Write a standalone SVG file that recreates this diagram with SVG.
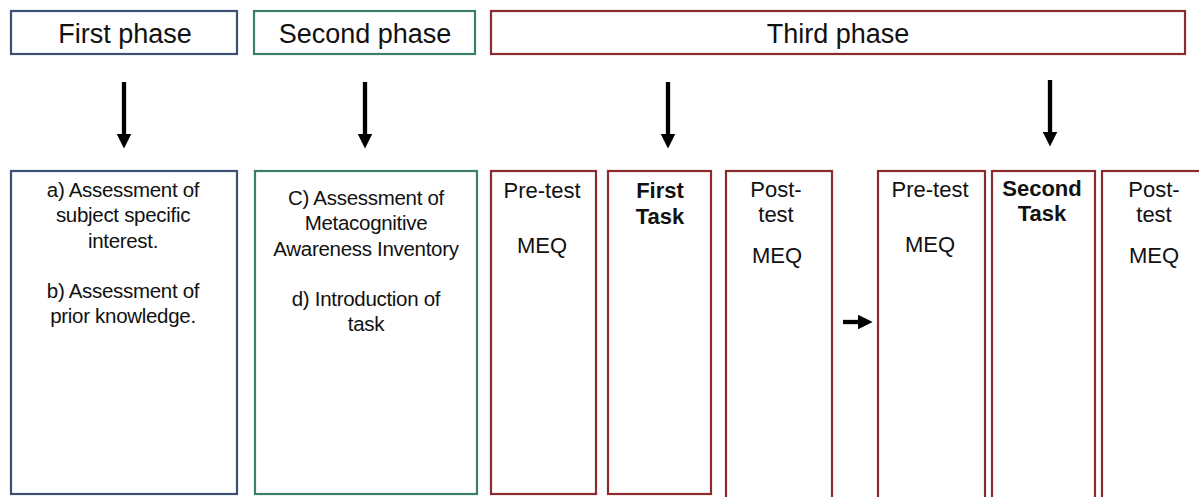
<svg xmlns="http://www.w3.org/2000/svg" width="1199" height="497" viewBox="0 0 1199 497">
  <style>
    .box { fill: #ffffff; stroke-width: 2.2; }
    .blue { stroke: #3e5071; }
    .green { stroke: #3a7f6c; }
    .red { stroke: #8c2b2d; }
    .hdr { font-family: "Liberation Sans", Arial, sans-serif; font-size: 27px; fill: #111; text-anchor: middle; }
    .txt { font-family: "Liberation Sans", Arial, sans-serif; font-size: 20.5px; fill: #111; text-anchor: middle; letter-spacing: -0.3px; }
    .big { font-family: "Liberation Sans", Arial, sans-serif; font-size: 22px; fill: #111; text-anchor: middle; }
    .bold { font-weight: bold; }
    .shaft { stroke: #000; stroke-width: 4.3; }
  </style>
  <defs>
    <marker id="head" viewBox="0 0 10 10" refX="0" refY="5" markerWidth="3.4" markerHeight="3.4" orient="auto" markerUnits="strokeWidth">
      <path d="M0,0 L10,5 L0,10 Z" fill="#000"/>
    </marker>
  </defs>

  <rect width="1199" height="497" fill="#ffffff"/>

  <!-- phase headers -->
  <g id="first-phase">
    <rect class="box blue" x="11" y="11" width="226" height="43"/>
    <text class="hdr" x="125" y="43">First phase</text>
  </g>
  <g id="second-phase">
    <rect class="box green" x="254" y="11" width="221" height="43"/>
    <text class="hdr" x="365" y="43">Second phase</text>
  </g>
  <g id="third-phase">
    <rect class="box red" x="491" y="11" width="694" height="43"/>
    <text class="hdr" x="838" y="43">Third phase</text>
  </g>

  <!-- phase 1 and 2 detail boxes -->
  <g id="phase1-detail">
    <rect class="box blue" x="11" y="171" width="226" height="323"/>
    <text class="txt" x="123" y="197">a) Assessment of</text>
    <text class="txt" x="123" y="222">subject specific</text>
    <text class="txt" x="123" y="248">interest.</text>
    <text class="txt" x="123" y="298">b) Assessment of</text>
    <text class="txt" x="123" y="323">prior knowledge.</text>
  </g>
  <g id="phase2-detail">
    <rect class="box green" x="255" y="171" width="222" height="323"/>
    <text class="txt" x="366" y="205">C) Assessment of</text>
    <text class="txt" x="366" y="230">Metacognitive</text>
    <text class="txt" x="366" y="256">Awareness Inventory</text>
    <text class="txt" x="366" y="306">d) Introduction of</text>
    <text class="txt" x="366" y="331">task</text>
  </g>

  <!-- phase 3: first round -->
  <g id="pretest-1">
    <rect class="box red" x="491" y="171" width="105" height="323"/>
    <text class="big" x="542" y="198">Pre-test</text>
    <text class="big" x="542" y="253">MEQ</text>
  </g>
  <g id="first-task">
    <rect class="box red" x="608" y="171" width="103" height="323"/>
    <text class="big bold" x="660" y="198">First</text>
    <text class="big bold" x="660" y="224">Task</text>
  </g>
  <g id="posttest-1">
    <rect class="box red" x="726" y="171" width="106" height="340"/>
    <text class="big" x="776" y="197">Post-</text>
    <text class="big" x="776" y="222">test</text>
    <text class="big" x="777" y="263">MEQ</text>
  </g>

  <!-- phase 3: second round -->
  <g id="pretest-2">
    <rect class="box red" x="878" y="171" width="107" height="340"/>
    <text class="big" x="930" y="197">Pre-test</text>
    <text class="big" x="930" y="252">MEQ</text>
  </g>
  <g id="second-task">
    <rect class="box red" x="992" y="171" width="103" height="340"/>
    <text class="big bold" x="1042" y="196">Second</text>
    <text class="big bold" x="1042" y="221">Task</text>
  </g>
  <g id="posttest-2">
    <rect class="box red" x="1102" y="171" width="110" height="340"/>
    <text class="big" x="1154" y="197">Post-</text>
    <text class="big" x="1154" y="222">test</text>
    <text class="big" x="1154" y="263">MEQ</text>
  </g>

  <!-- connectors -->
  <g id="connectors">
    <line class="shaft" x1="124" y1="82" x2="124" y2="134" marker-end="url(#head)"/>
    <line class="shaft" x1="365" y1="82" x2="365" y2="134" marker-end="url(#head)"/>
    <line class="shaft" x1="668" y1="82" x2="668" y2="134" marker-end="url(#head)"/>
    <line class="shaft" x1="1050" y1="80" x2="1050" y2="132" marker-end="url(#head)"/>
    <line class="shaft" x1="843" y1="322" x2="858" y2="322" marker-end="url(#head)"/>
  </g>
</svg>
